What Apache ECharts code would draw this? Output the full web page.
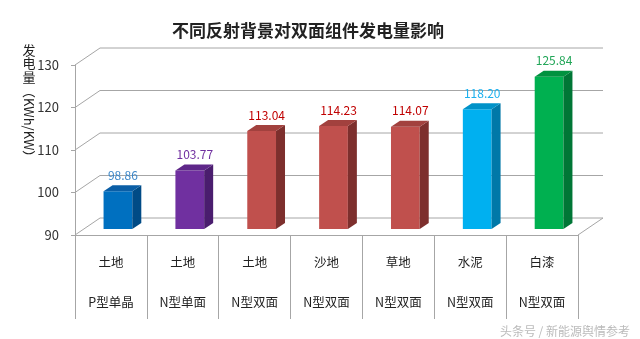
<!DOCTYPE html>
<html>
<head>
<meta charset="utf-8">
<script src="https://cdn.jsdelivr.net/npm/echarts@6/dist/echarts.min.js"></script>
<style>
html,body{margin:0;padding:0;background:#fff;}
#chart{width:640px;height:339px;}
</style>
</head>
<body>
<div id="chart"></div>
<script>
// Reflective surface under each module, and module type
const surfaces = ['土地', '土地', '土地', '沙地', '草地', '水泥', '白漆'];
const modules = ['P型单晶', 'N型单面', 'N型双面', 'N型双面', 'N型双面', 'N型双面', 'N型双面'];
// Energy yield, KWh/KW
const outputs = [98.86, 103.77, 113.04, 114.23, 114.07, 118.20, 125.84];
const yTicks = [90, 100, 110, 120, 130];

const frontColors = ['#0070C0', '#7030A0', '#C0504D', '#C0504D', '#C0504D', '#00B0F0', '#00B050'];
const sideColors  = ['#004B86', '#4A1D6E', '#7D2F2D', '#7D2F2D', '#7D2F2D', '#0078A8', '#007636'];
const topColors   = ['#0A5EA6', '#5E2789', '#A2413E', '#A2413E', '#A2413E', '#0092C8', '#00923F'];
const labelColors = ['#3A86C8', '#7030A0', '#C00000', '#C00000', '#C00000', '#1CB0EE', '#22A658'];

// pseudo-3D depth of the wall and of each bar
const WALL_DX = 25, WALL_DY = -17;
const BAR_OX = 7, BAR_OY = -6;
const BAR_DX = 9, BAR_DY = -6;
const GRID_COLOR = '#A6A6A6';
const FONT = '"Noto Sans CJK SC", sans-serif';

const chart = echarts.init(document.getElementById('chart'), null, {renderer: 'canvas'});

function renderFrame(params, api) {
  const cs = params.coordSys;
  const v = api.value(1);
  const y = api.coord([0, v])[1];
  const left = cs.x, right = cs.x + cs.width;
  const children = [{
    type: 'polyline',
    shape: {points: [[left, y], [left + WALL_DX, y + WALL_DY], [right + WALL_DX, y + WALL_DY]]},
    style: {stroke: GRID_COLOR, lineWidth: 1, fill: null}
  }];
  if (v === yTicks[0]) {
    children.push({
      type: 'line',
      shape: {x1: right, y1: y, x2: right + WALL_DX, y2: y + WALL_DY},
      style: {stroke: GRID_COLOR, lineWidth: 1}
    });
  }
  return {type: 'group', children: children};
}

function renderBar(params, api) {
  const i = api.value(0);
  const v = api.value(1);
  const base = api.coord([i, yTicks[0]]);
  const top = api.coord([i, v]);
  const band = api.size([1, 0])[0];
  const w = band * 0.4;
  const x0 = base[0] - w / 2 + BAR_OX;
  const x1 = x0 + w;
  const yb = base[1] + BAR_OY;
  const yt = top[1] + BAR_OY;
  return {
    type: 'group',
    children: [
      {type: 'polygon', shape: {points: [[x0, yt], [x1, yt], [x1, yb], [x0, yb]]},
       style: {fill: frontColors[i]}},
      {type: 'polygon', shape: {points: [[x1, yt], [x1 + BAR_DX, yt + BAR_DY], [x1 + BAR_DX, yb + BAR_DY], [x1, yb]]},
       style: {fill: sideColors[i]}},
      {type: 'polygon', shape: {points: [[x0, yt], [x0 + BAR_DX, yt + BAR_DY], [x1 + BAR_DX, yt + BAR_DY], [x1, yt]]},
       style: {fill: topColors[i]}},
      {type: 'text', x: x0 + w / 2 + 5, y: yt + BAR_DY - 4,
       style: {text: v.toFixed(2), fill: labelColors[i], font: '12px ' + FONT,
               align: 'center', verticalAlign: 'bottom'}}
    ]
  };
}

chart.setOption({
  animation: false,
  backgroundColor: '#fff',
  title: {
    text: '不同反射背景对双面组件发电量影响',
    left: 167, top: 17,
    textStyle: {fontSize: 17, fontWeight: 'bold', color: '#222', fontFamily: FONT}
  },
  grid: {left: 75, right: 62, top: 65, bottom: 104, containLabel: false},
  xAxis: {
    type: 'category',
    data: surfaces.map((s, i) => s + '\n' + modules[i]),
    axisLine: {show: true, lineStyle: {color: GRID_COLOR, width: 1}},
    axisTick: {show: true, length: 84, interval: 0, lineStyle: {color: GRID_COLOR, width: 1}},
    axisLabel: {interval: 0, margin: 7, lineHeight: 40, fontSize: 12.5, color: '#222', fontFamily: FONT}
  },
  yAxis: {
    type: 'value',
    min: 90, max: 130, interval: 10,
    axisLine: {show: true, lineStyle: {color: GRID_COLOR, width: 1}},
    axisTick: {show: true, length: 4, lineStyle: {color: GRID_COLOR}},
    axisLabel: {margin: 16, fontSize: 13, color: '#333', fontFamily: FONT},
    splitLine: {show: false}
  },
  graphic: [
    {type: 'text', x: 29, y: 50, style: {text: '发', font: '13px ' + FONT, fill: '#222', align: 'center', verticalAlign: 'middle'}},
    {type: 'text', x: 29, y: 63, style: {text: '电', font: '13px ' + FONT, fill: '#222', align: 'center', verticalAlign: 'middle'}},
    {type: 'text', x: 29, y: 77, style: {text: '量', font: '13px ' + FONT, fill: '#222', align: 'center', verticalAlign: 'middle'}},
    {type: 'text', x: 29, y: 85, rotation: -Math.PI / 2,
     style: {text: '（KWh/KW）', font: '13px ' + FONT, fill: '#222', align: 'left', verticalAlign: 'middle'}},
    {type: 'text', right: 10, top: 325,
     style: {text: '头条号 / 新能源舆情参考', font: '12px ' + FONT, fill: '#BBBBBB'}}
  ],
  series: [
    {
      type: 'custom',
      name: 'frame',
      clip: false,
      z: 1,
      silent: true,
      renderItem: renderFrame,
      data: yTicks.map(v => [0, v])
    },
    {
      type: 'custom',
      name: '发电量',
      clip: false,
      z: 2,
      renderItem: renderBar,
      encode: {x: 0, y: 1},
      data: outputs.map((v, i) => [i, v])
    }
  ]
});
</script>
</body>
</html>
